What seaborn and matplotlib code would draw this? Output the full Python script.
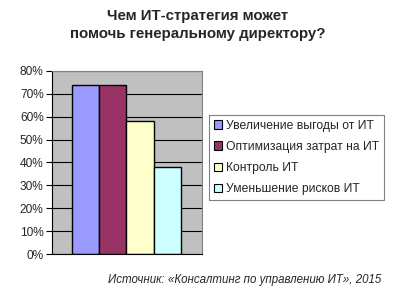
import matplotlib
matplotlib.use("Agg")
import matplotlib.pyplot as plt
import seaborn as sns
import pandas as pd
from matplotlib.patches import Patch
from matplotlib.ticker import PercentFormatter

categories = ["Увеличение выгоды от ИТ", "Оптимизация затрат на ИТ",
              "Контроль ИТ", "Уменьшение рисков ИТ"]
values = [74, 74, 58, 38]
colors = ["#9999FF", "#993366", "#FFFFCC", "#CCFFFF"]
yticks = [0, 10, 20, 30, 40, 50, 60, 70, 80]

title = "Чем ИТ-стратегия может\nпомочь генеральному директору?"
source = "Источник: «Консалтинг по управлению ИТ», 2015"

sns.set_style("white")
plt.rcParams["font.family"] = ["Liberation Sans", "DejaVu Sans"]

df = pd.DataFrame({"cat": categories, "val": values})

fig = plt.figure(figsize=(4.0, 2.93), dpi=100)
ax = fig.add_axes([0.13, 0.133, 0.375, 0.625])
ax.set_facecolor("#C0C0C0")
ax.set_axisbelow(True)

sns.barplot(data=df, x="cat", y="val", hue="cat", palette=colors, width=1.0,
            edgecolor="black", linewidth=1.0, legend=False, ax=ax, saturation=1)

ax.set_xlim(-1.23, 4.27)
ax.set_ylim(0, 80)
ax.set_yticks(yticks)
ax.yaxis.set_major_formatter(PercentFormatter(decimals=0))
ax.grid(axis="y", color="black", linewidth=0.8)
ax.set_xticks([])
ax.set_xlabel("")
ax.set_ylabel("")
ax.tick_params(axis="y", labelsize=8.6, length=4, width=0.8, color="black", left=True, pad=2)
for s in ["top", "right"]:
    ax.spines[s].set_color("#808080")
    ax.spines[s].set_linewidth(0.8)
for s in ["left", "bottom"]:
    ax.spines[s].set_color("black")
    ax.spines[s].set_linewidth(0.8)

handles = [Patch(facecolor=c, edgecolor="black", linewidth=0.8) for c in colors]
leg = fig.legend(handles, categories, loc="upper left",
                 bbox_to_anchor=(209 / 400, 1 - 115 / 293),
                 fontsize=8.7, frameon=True, fancybox=False,
                 handlelength=0.7, handleheight=0.7, handletextpad=0.3,
                 labelspacing=0.75, borderpad=0.4, borderaxespad=0)
leg.get_frame().set_edgecolor("#606060")
leg.get_frame().set_linewidth(0.8)

fig.text(0.495, 0.97, title, ha="center", va="top", fontsize=10.8,
         fontweight="bold", linespacing=1.4)
fig.text(0.952, 0.045, source, ha="right", va="center", fontsize=8.3,
         style="italic")

fig.savefig("out.png", dpi=100, facecolor="white")
